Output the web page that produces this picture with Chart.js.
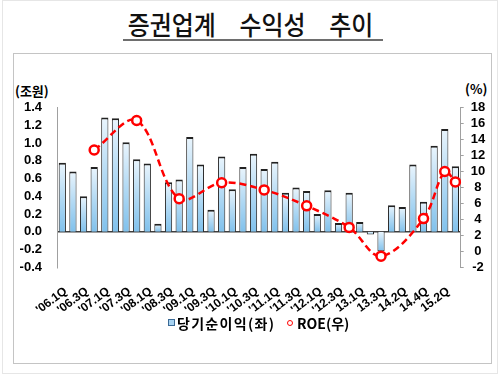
<!DOCTYPE html>
<html><head><meta charset="utf-8">
<script src="https://cdn.jsdelivr.net/npm/chart.js@4.4.0/dist/chart.umd.min.js"></script>
<style>
html,body{margin:0;padding:0;background:#fff;}
body{width:500px;height:380px;position:relative;overflow:hidden;font-family:'Noto Sans CJK KR',sans-serif;}
#outer{position:absolute;left:2px;top:0;width:496px;height:374px;border:1px solid #e6e6e6;box-sizing:border-box;}
#frame{position:absolute;left:13px;top:53px;width:479px;height:311px;border:1px solid #c4c4c4;box-sizing:border-box;}
#title{position:absolute;left:0;top:9px;width:500px;text-align:center;font-size:26px;font-weight:500;line-height:30px;color:#111;word-spacing:20px;white-space:nowrap;}
#title span{display:inline-block;transform:scaleX(0.92);}
#uline{position:absolute;left:123px;top:39px;width:260px;height:2px;background:#6e6e6e;}
.unit{position:absolute;font:bold 13px 'Noto Sans CJK KR';line-height:16px;color:#000;}
#wrap{position:absolute;left:14px;top:55px;width:476px;height:307px;}
.lg{position:absolute;font:bold 14px 'Noto Sans CJK KR';line-height:16px;color:#000;white-space:nowrap;}
#sq{position:absolute;left:168px;top:319px;width:7px;height:7px;box-sizing:border-box;background:#a7d3f2;border:1px solid #3b6a96;}
#ci{position:absolute;left:287px;top:320px;width:6px;height:6px;box-sizing:border-box;border-radius:50%;background:#fff;border:1.5px solid #ff0000;}
</style></head>
<body>
<div id="outer"></div>
<div id="title"><span>증권업계 수익성 추이</span></div>
<div id="uline"></div>
<div id="frame"></div>
<div class="unit" style="left:15px;top:83px;">(조원)</div>
<div class="unit" style="left:465px;top:81px;">(%)</div>
<div id="wrap"><canvas id="c"></canvas></div>
<div id="sq"></div><div class="lg" id="lg0" style="left:177px;top:315px;letter-spacing:1.3px;"></div>
<div id="ci"></div><div class="lg" id="lg1" style="left:297px;top:315px;"></div>
<script>
const quarters = ["'06.1Q","'06.2Q","'06.3Q","'06.4Q","'07.1Q","'07.2Q","'07.3Q","'07.4Q",
  "'08.1Q","'08.2Q","'08.3Q","'08.4Q","'09.1Q","'09.2Q","'09.3Q","'09.4Q",
  "'10.1Q","'10.2Q","'10.3Q","'10.4Q","'11.1Q","'11.2Q","'11.3Q","'11.4Q",
  "'12.1Q","'12.2Q","'12.3Q","'12.4Q","13.1Q","13.2Q","13.3Q",
  "14.1Q","14.2Q","14.3Q","14.4Q","15.1Q","15.2Q","15.3Q"];
const netIncome = [0.78,0.68,0.40,0.73,1.29,1.28,1.01,0.82,
  0.77,0.09,0.56,0.59,1.07,0.76,0.25,0.85,
  0.48,0.73,0.88,0.71,0.79,0.44,0.50,0.46,
  0.20,0.47,0.10,0.44,0.11,-0.03,-0.22,
  0.30,0.28,0.76,0.34,0.97,1.16,0.74];
const roe = [null,null,null,12.7,null,null,null,16.4,
  null,null,null,6.6,null,null,null,8.6,
  null,null,null,7.7,null,null,null,5.7,
  null,null,null,3.0,null,null,-0.6,
  null,null,null,4.1,null,10.0,8.7];
const seriesNames = ['당기순이익(좌)','ROE(우)'];
document.getElementById('lg0').textContent = seriesNames[0];
document.getElementById('lg1').textContent = seriesNames[1];

function barFill(c){
  const chart=c.chart; const area=chart.chartArea;
  if(!area || c.type!=='data' || !chart.scales.y) return '#a9d5f3';
  const ys=chart.scales.y; const v=c.raw;
  const p0=ys.getPixelForValue(0), p1=ys.getPixelForValue(v);
  const top=Math.min(p0,p1), bot=Math.max(p0,p1);
  if(bot-top<2) return '#b5dcf5';
  const g=chart.ctx.createLinearGradient(0,top,0,bot);
  g.addColorStop(0,'#eaf5fd'); g.addColorStop(0.5,'#b3daf4'); g.addColorStop(1,'#80c1ec');
  return g;
}
const tickFont={family:'Liberation Sans',weight:'bold',size:13};

new Chart(document.getElementById('c'),{
  data:{labels:quarters,datasets:[
    {type:'bar',label:seriesNames[0],data:netIncome,yAxisID:'y',order:2,
     backgroundColor:barFill,borderColor:'#222',borderWidth:{top:2,left:1,right:1,bottom:1},
     barPercentage:0.68,categoryPercentage:1},
    {type:'line',label:seriesNames[1],data:roe,yAxisID:'y1',order:1,spanGaps:true,
     borderColor:'#ff0000',borderWidth:2.5,borderDash:[7,4],tension:0.35,
     pointRadius:4.5,pointBorderWidth:2.5,pointBackgroundColor:'#fff',pointBorderColor:'#ff0000'}
  ]},
  options:{
    responsive:true,maintainAspectRatio:false,animation:false,
    layout:{padding:{top:52.7,left:0,right:0,bottom:0}},
    plugins:{tooltip:{enabled:false},legend:{display:false}},
    scales:{
      x:{grid:{display:false,drawTicks:false},border:{display:false},
        ticks:{autoSkip:false,maxRotation:37,minRotation:37,padding:17,labelOffset:3.5,color:'#000',
          font:{family:'Liberation Sans',weight:'bold',size:12},
          callback:(v,i)=> i%2===0 ? quarters[i] : ''},
        afterFit:s=>{s.height=94.7;}},
      y:{position:'left',min:-0.4,max:1.4,
        ticks:{stepSize:0.2,autoSkip:false,padding:15,color:'#000',font:tickFont,
          callback:v=>Math.abs(v)<1e-9?'0.0':v.toFixed(1)},
        grid:{drawTicks:false,lineWidth:1.5,color:c=>Math.abs(c.tick.value)<1e-9?'#404040':'rgba(0,0,0,0)'},
        border:{display:true,color:'#a0a0a0'},
        afterFit:s=>{s.width=43;}},
      y1:{position:'right',min:-2,max:18,
        ticks:{stepSize:2,autoSkip:false,crossAlign:'center',padding:7,color:'#000',font:tickFont},
        grid:{drawOnChartArea:false,tickLength:3,color:'#a0a0a0'},
        border:{display:true,color:'#a0a0a0'},
        afterFit:s=>{s.width=29.3;}}
    }
  }
});
</script>
</body></html>
